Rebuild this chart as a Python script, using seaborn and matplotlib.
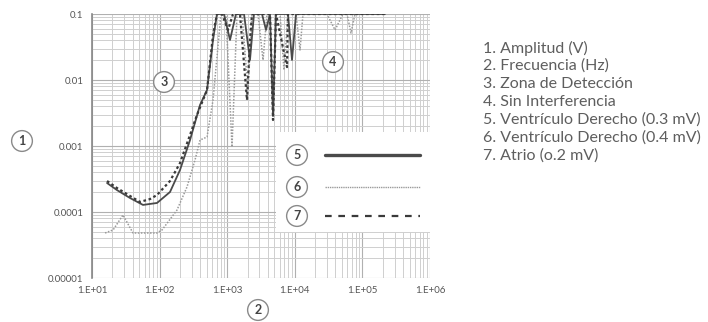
import numpy as np
import pandas as pd
import matplotlib
matplotlib.use("Agg")
import matplotlib.pyplot as plt
import seaborn as sns
from matplotlib.ticker import LogLocator, FixedLocator, FixedFormatter, NullFormatter
from matplotlib.lines import Line2D

# ---- data ----
freq_v03 = [16.7, 23.4, 36.5, 56.8, 91.5, 142.6, 200.4, 281.8, 396, 503, 617, 706,
            897, 1100, 1349, 1773, 2173, 2490, 3273, 3750, 4296, 4762, 5272, 7930,
            9094, 10420, 215800]
amp_v03 = [0.000275, 0.000215, 0.000163, 0.000128, 0.000137, 0.000201, 0.000433,
           0.00123, 0.00418, 0.00705, 0.0404, 0.1, 0.1, 0.0404, 0.1, 0.1, 0.0201,
           0.1, 0.1, 0.0573, 0.1, 0.00295, 0.1, 0.1, 0.0201, 0.1, 0.1]

freq_v04 = [15.6, 20.5, 28.7, 40.4, 91.5, 108.6, 180.7, 254, 334, 396, 503, 617,
            706, 809, 960, 1178, 1396, 1655, 2031, 2328, 2855, 3388, 3882, 6040,
            6918, 7930, 10420, 11940, 13220, 29920, 39330, 51620, 59180, 67800,
            77770, 215800]
amp_v04 = [0.0000481, 0.0000534, 0.0000901, 0.0000481, 0.0000481, 0.0000534,
           0.000107, 0.000239, 0.000614, 0.00123, 0.00137, 0.00498, 0.0223, 0.1,
           0.1, 0.000966, 0.1, 0.1, 0.00705, 0.1, 0.1, 0.0201, 0.1, 0.1, 0.0142,
           0.1, 0.1, 0.0285, 0.1, 0.1, 0.0573, 0.1, 0.1, 0.0515, 0.1, 0.1]

freq_atrio = [16.7, 23.4, 36.5, 51.3, 72.1, 91.5, 142.6, 200.4, 281.8, 357, 503,
              617, 706, 838, 1028, 1219, 1545, 1963, 2173, 2328, 2855, 4296, 4762,
              5272, 7674, 7930, 10420, 215800]
amp_atrio = [0.000295, 0.000231, 0.000175, 0.000142, 0.000157, 0.000181, 0.000295,
             0.000552, 0.00147, 0.00295, 0.00705, 0.0481, 0.1, 0.1, 0.0573, 0.1,
             0.1, 0.00498, 0.0404, 0.1, 0.1, 0.1, 0.00248, 0.1, 0.0157, 0.1, 0.1, 0.1]

x_ticks = [1e1, 1e2, 1e3, 1e4, 1e5, 1e6]
x_tick_labels = ["1.E+01", "1.E+02", "1.E+03", "1.E+04", "1.E+05", "1.E+06"]
y_ticks = [1e-5, 1e-4, 1e-3, 1e-2, 1e-1]
y_tick_labels = ["0.00001", "0.0001", "0.001", "0.01", "0.1"]

notes = ["1. Amplitud (V)", "2. Frecuencia (Hz)", "3. Zona de Detección",
         "4. Sin Interferencia", "5. Ventrículo Derecho (0.3 mV)",
         "6. Ventrículo Derecho (0.4 mV)", "7. Atrio (o.2 mV)"]

df = pd.concat([
    pd.DataFrame({"f": freq_v03, "a": amp_v03, "s": "5"}),
    pd.DataFrame({"f": freq_v04, "a": amp_v04, "s": "6"}),
    pd.DataFrame({"f": freq_atrio, "a": amp_atrio, "s": "7"}),
], ignore_index=True)

sns.set_style("white")
plt.rcParams["font.family"] = ["Lato", "DejaVu Sans"]

W, H = 708, 322
fig = plt.figure(figsize=(W / 100, H / 100), dpi=100)
ax = fig.add_axes([92 / W, 1 - 278 / H, (430 - 92) / W, (278 - 14) / H])
ax.set_xscale("log")
ax.set_yscale("log")
ax.set_xlim(1e1, 1e6)
ax.set_ylim(1e-5, 1e-1)

styles = {"5": dict(color="#4a4a4a", lw=1.3, ls="-"),
          "6": dict(color="#9a9a9a", lw=1.1, ls=(0, (1, 1))),
          "7": dict(color="#3a3a3a", lw=1.6, ls=(0, (1.2, 1.2)))}
for key in ["6", "5", "7"]:
    sub = df[df["s"] == key]
    sns.lineplot(data=sub, x="f", y="a", sort=False, estimator=None, ax=ax,
                 color=styles[key]["color"], linewidth=styles[key]["lw"],
                 linestyle=styles[key]["ls"], legend=False)

ax.xaxis.set_major_locator(FixedLocator(x_ticks))
ax.xaxis.set_major_formatter(FixedFormatter(x_tick_labels))
ax.yaxis.set_major_locator(FixedLocator(y_ticks))
ax.yaxis.set_major_formatter(FixedFormatter(y_tick_labels))
ax.xaxis.set_minor_locator(LogLocator(base=10, subs=np.arange(2, 10)))
ax.yaxis.set_minor_locator(LogLocator(base=10, subs=np.arange(2, 10)))
ax.xaxis.set_minor_formatter(NullFormatter())
ax.yaxis.set_minor_formatter(NullFormatter())
ax.grid(True, which="major", color="#b0b0b0", lw=0.8)
ax.grid(True, which="minor", color="#cfcfcf", lw=0.7)
ax.set_axisbelow(True)
ax.tick_params(axis="both", which="both", length=0, labelsize=7, colors="#555", pad=6)
ax.set_xlabel("")
ax.set_ylabel("")
for s in ["top", "right", "bottom"]:
    ax.spines[s].set_visible(False)
ax.spines["left"].set_color("#888")
ax.spines["left"].set_linewidth(1.2)

# legend box
def px(x, y):
    return x / W, 1 - y / H

bx0, by0 = px(276, 232)
box = plt.Rectangle((bx0, by0), (430 - 276) / W, (232 - 132) / H, transform=fig.transFigure,
                    fc="white", ec="none", zorder=5)
fig.patches.append(box)

circ = dict(boxstyle="circle,pad=0.35", fc="white", ec="#8a8a8a", lw=1.0)

def circled(x, y, t):
    fig.text(*px(x, y), t, ha="center", va="center", fontsize=9, fontweight="bold",
             color="#444", bbox=circ, zorder=10)

leg_rows = [(155, "5"), (187, "6"), (216, "7")]
for y, key in leg_rows:
    circled(297, y, key)
    st = styles[key]
    lw = {"5": 2.4, "6": 1.0, "7": 1.6}[key]
    ls = {"5": "-", "6": (0, (1, 0.6)), "7": (0, (3, 3))}[key]
    fig.add_artist(Line2D([325 / W, 420 / W], [1 - y / H, 1 - y / H], color=st["color"],
                          lw=lw, ls=ls, zorder=10))

circled(22, 141, "1")
circled(258, 310, "2")
circled(164, 82, "3")
circled(333, 62, "4")

for i, t in enumerate(notes):
    fig.text(*px(483, 48 + i * 18), t, ha="left", va="center", fontsize=11.5, color="#5e5e5e")

fig.savefig("out.png", dpi=100)
